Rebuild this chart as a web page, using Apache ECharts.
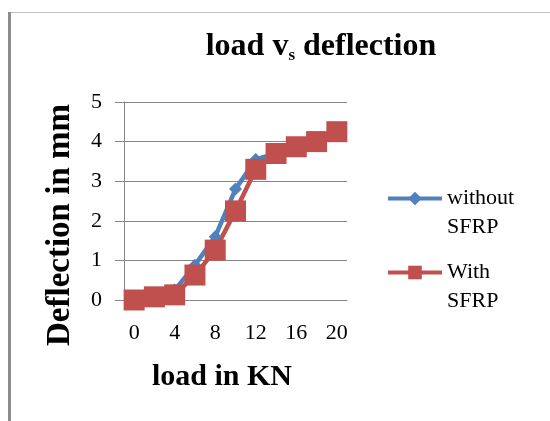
<!DOCTYPE html>
<html>
<head>
<meta charset="utf-8">
<script src="https://cdn.jsdelivr.net/npm/echarts@6/dist/echarts.min.js"></script>
<style>
  html, body { margin: 0; padding: 0; background: #fff; }
  #chart { width: 550px; height: 421px; }
</style>
</head>
<body>
<div id="chart"></div>
<script>
// load in KN (categories), every other one is labelled
var loads = ['0', '2', '4', '6', '8', '10', '12', '14', '16', '18', '20'];
// deflection in mm
var withoutSFRP = [0, 0.1, 0.25, 0.88, 1.6, 2.8, 3.55, 3.7, 3.87, 4.0, 4.25];
var withSFRP = [0, 0.08, 0.13, 0.63, 1.26, 2.25, 3.3, 3.7, 3.87, 4.0, 4.25];
var yTicks = [0, 1, 2, 3, 4, 5];

var serif = '"Liberation Serif", "DejaVu Serif", serif';

var chart = echarts.init(document.getElementById('chart'));

chart.setOption({
    animation: false,
    backgroundColor: '#fff',
    textStyle: { fontFamily: serif },
    title: {
        text: '{a|load v}{s|s}{a| deflection}',
        left: 316,
        textAlign: 'center',
        top: 25,
        textStyle: {
            rich: {
                a: { fontFamily: serif, fontSize: 32, fontWeight: 'bold', color: '#000' },
                s: { fontFamily: serif, fontSize: 17, fontWeight: 'bold', color: '#000', verticalAlign: 'bottom', padding: [17, 0, 0, 0] }
            }
        }
    },
    legend: {
        orient: 'vertical',
        left: 381,
        top: 150,
        itemWidth: 54,
        itemHeight: 17,
        itemGap: -13,
        lineStyle: { width: 4 },
        textStyle: { fontFamily: serif, fontSize: 22, color: '#000', lineHeight: 29 },
        // Excel puts the marker level with the first line of the wrapped name
        formatter: function (name) {
            return ' \n' + name.replace(' ', '\n');
        },
        data: ['without SFRP', 'With SFRP']
    },
    grid: {
        left: 124,
        right: 203,
        top: 102,
        bottom: 121
    },
    xAxis: {
        type: 'category',
        data: loads,
        boundaryGap: true,
        axisLine: { show: true, lineStyle: { color: '#868686', width: 1 } },
        axisTick: { show: false },
        axisLabel: { interval: 1, margin: 22, fontFamily: serif, fontSize: 22, color: '#000' },
        splitLine: { show: false }
    },
    yAxis: {
        type: 'value',
        min: yTicks[0],
        max: yTicks[yTicks.length - 1],
        interval: 1,
        axisLine: { show: true, lineStyle: { color: '#868686', width: 1 } },
        axisTick: { show: true, inside: false, length: 9, lineStyle: { color: '#868686' } },
        axisLabel: { margin: 22, fontFamily: serif, fontSize: 22, color: '#000' },
        splitLine: { show: true, lineStyle: { color: '#868686', width: 1 } }
    },
    series: [{
        name: 'without SFRP',
        type: 'line',
        data: withoutSFRP,
        color: '#4F81BD',
        symbol: 'diamond',
        symbolSize: 13,
        showAllSymbol: true,
        lineStyle: { width: 4.5, color: '#4F81BD' },
        itemStyle: { color: '#4F81BD' }
    }, {
        name: 'With SFRP',
        type: 'line',
        data: withSFRP,
        color: '#C0504D',
        symbol: 'rect',
        symbolSize: 21,
        showAllSymbol: true,
        lineStyle: { width: 4.5, color: '#C0504D' },
        itemStyle: { color: '#C0504D' }
    }],
    graphic: [
        // frame of the pasted chart: thin top edge, thicker left edge
        { type: 'rect', shape: { x: 9, y: 12, width: 541, height: 1 }, style: { fill: '#c0c0c0' }, silent: true },
        { type: 'rect', shape: { x: 8, y: 12, width: 3, height: 409 }, style: { fill: '#8c8c8c' }, silent: true },
        // axis titles
        {
            type: 'text', x: 60, y: 225, rotation: Math.PI / 2,
            style: { text: 'Deflection in mm', font: 'bold 33px ' + serif, fill: '#000', align: 'center', verticalAlign: 'middle' }
        },
        {
            type: 'text', x: 222, y: 377,
            style: { text: 'load in KN', font: 'bold 30px ' + serif, fill: '#000', align: 'center', verticalAlign: 'middle' }
        }
    ]
});
</script>
</body>
</html>
